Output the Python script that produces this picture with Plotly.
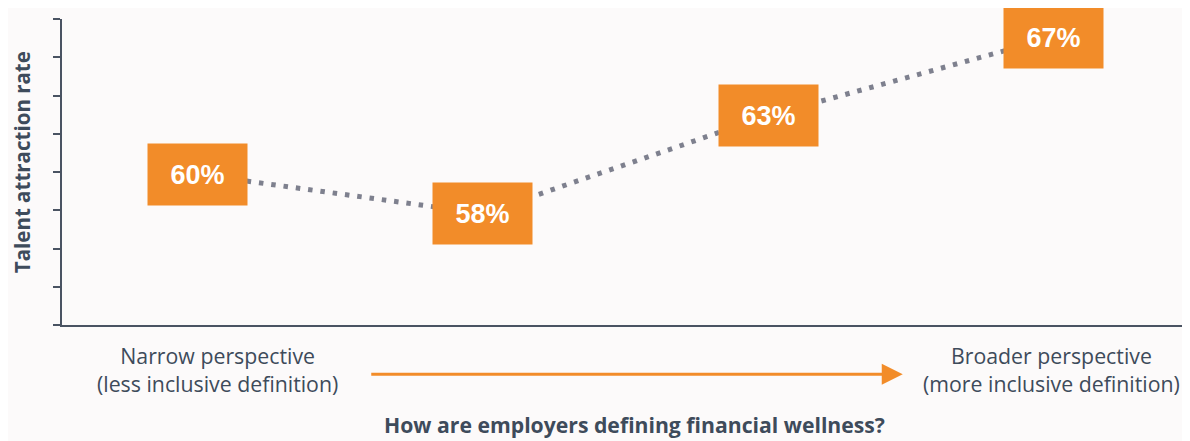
import plotly.graph_objects as go

# ---- data ----
positions = [0, 1, 2, 3]
rates = [60, 58, 63, 67]
rate_labels = ["60%", "58%", "63%", "67%"]
left_label = "Narrow perspective<br>(less inclusive definition)"
right_label = "Broader perspective<br>(more inclusive definition)"
x_title = "How are employers defining financial wellness?"
y_title = "Talent attraction rate"

ORANGE = "#f28c29"
DOT = "#7e808e"
AXIS = "#4a5362"
TEXT = "#3e4b5b"
BG = "#fcfafa"
FONT = "Open Sans"

fig = go.Figure()
fig.add_trace(go.Scatter(
    x=positions, y=rates, mode="lines",
    line=dict(color=DOT, width=5, dash="4.5px,7.9px"),
    hoverinfo="skip", showlegend=False,
))

for xv, yv, lab in zip(positions, rates, rate_labels):
    fig.add_annotation(
        x=xv, y=yv, xref="x", yref="y", text=f"<b>{lab}</b>",
        showarrow=False, bgcolor=ORANGE, width=99, height=61, borderpad=0,
        font=dict(family="Liberation Sans, Arial", size=27, color="white"),
        align="center", valign="middle",
    )

# y-axis title
fig.add_annotation(
    xref="paper", yref="paper", x=-0.0356, y=0.532, text=f"<b>{y_title}</b>",
    textangle=-90, showarrow=False, xanchor="center", yanchor="middle",
    font=dict(family=FONT, size=20.5, color=TEXT), borderpad=0,
)
# bottom labels
for xp, lab in [(0.138, left_label), (0.880, right_label)]:
    fig.add_annotation(
        xref="paper", yref="paper", x=xp, y=-0.144, text=lab,
        showarrow=False, xanchor="center", yanchor="middle", align="center",
        font=dict(family=FONT, size=21.3, color=TEXT),
    )
# arrow
fig.add_annotation(
    xref="paper", yref="paper", x=0.748, y=-0.161, ax=-533, ay=0,
    axref="pixel", ayref="pixel", text="", showarrow=True,
    arrowhead=2, arrowsize=1.4, arrowwidth=3, arrowcolor=ORANGE,
)
# x title
fig.add_annotation(
    xref="paper", yref="paper", x=0.509, y=-0.324, text=f"<b>{x_title}</b>",
    showarrow=False, xanchor="center", yanchor="middle",
    font=dict(family=FONT, size=21.2, color=TEXT),
)

# the page body adds an 8px margin, so the figure is 8px smaller and margins offset
fig.update_layout(
    width=1182, height=433,
    margin=dict(l=54, r=4, t=11, b=116),
    paper_bgcolor=BG, plot_bgcolor=BG,
    xaxis=dict(range=[-0.475, 3.465], showgrid=False, zeroline=False,
               showline=True, linecolor=AXIS, linewidth=2,
               showticklabels=False, ticks=""),
    yaxis=dict(range=[52.3, 67.94], showgrid=False, zeroline=False,
               showline=True, linecolor=AXIS, linewidth=2,
               showticklabels=False, ticks="outside", ticklen=7,
               tickwidth=2, tickcolor=AXIS, tick0=52.3, dtick=1.955),
)

fig.write_html("out.html")
